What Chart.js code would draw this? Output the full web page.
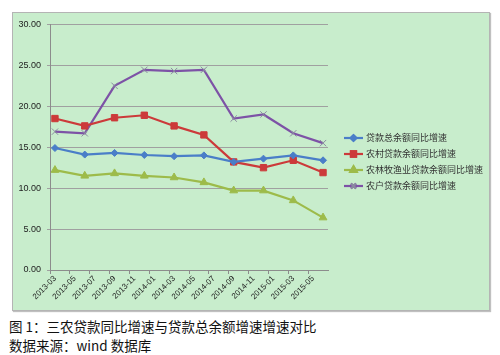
<!DOCTYPE html>
<html><head><meta charset="utf-8">
<script src="https://cdn.jsdelivr.net/npm/chart.js@4"></script>
<style>
html,body{margin:0;padding:0;background:#fff;width:500px;height:355px;overflow:hidden}
#panel{position:absolute;left:12px;top:12px;width:476px;height:297px;background:#c8edcc;border:1px solid #b4b4b4;box-shadow:1px 1px 1px #c0c0c0}
#panel canvas{position:absolute;left:0;top:0}
.cap{position:absolute;left:9px;font-family:"Noto Sans CJK SC","Noto Sans",sans-serif;font-size:13.5px;color:#111;white-space:nowrap;line-height:16px}
</style></head><body>
<div id="panel"><canvas id="c" width="476" height="297"></canvas></div>
<div class="cap" style="top:318px">图 1：三农贷款同比增速与贷款总余额增速增速对比</div>
<div class="cap" style="top:337px">数据来源：wind 数据库</div>
<script>
// monthly axis slots (tick labels shown every 2 months)
const months = ["2013-03","2013-04","2013-05","2013-06","2013-07","2013-08","2013-09","2013-10","2013-11","2013-12",
"2014-01","2014-02","2014-03","2014-04","2014-05","2014-06","2014-07","2014-08","2014-09","2014-10","2014-11","2014-12",
"2015-01","2015-02","2015-03","2015-04","2015-05","2015-06"];
// quarterly observation dates
const dates = ["2013-03","2013-06","2013-09","2013-12","2014-03","2014-06","2014-09","2014-12","2015-03","2015-06"];
const seriesNames = ["贷款总余额同比增速","农村贷款余额同比增速","农林牧渔业贷款余额同比增速","农户贷款余额同比增速"];
const totalLoans   = [14.9,14.1,14.3,14.05,13.9,14.0,13.2,13.6,14.0,13.4];
const ruralLoans   = [18.5,17.6,18.6,18.9,17.6,16.5,13.2,12.5,13.4,11.9];
const agriLoans    = [12.2,11.5,11.8,11.5,11.3,10.7,9.7,9.7,8.5,6.4];
const farmerLoans  = [16.9,16.7,22.5,24.45,24.3,24.45,18.5,19.0,16.7,15.5];
const yTicks = [0,5,10,15,20,25,30];

const colors = ["#4a7ec8","#cc3a3a","#9dbb4a","#7d52a6"];
const styles = ["rectRot","rect","triangle","crossRot"];
const radii = [3.5,4.5,4.5,4.5];
const values = [totalLoans,ruralLoans,agriLoans,farmerLoans];

function toSlots(arr){
  const out = months.map(()=>null);
  dates.forEach((d,i)=>{out[months.indexOf(d)] = arr[i];});
  return out;
}

const datasets = values.map((v,i)=>({
  label: seriesNames[i],
  data: toSlots(v),
  borderColor: colors[i],
  backgroundColor: colors[i],
  pointBorderColor: i===3 ? "#8a8aa0" : colors[i],
  borderWidth: 2.2,
  pointStyle: styles[i],
  pointRadius: radii[i],
  pointBorderWidth: i===3 ? 1 : 1,
  spanGaps: true,
  tension: 0
}));

const legendPlugin = {
  id:"xlLegend",
  afterDraw(chart){
    const ctx = chart.ctx;
    const x0 = 331, x1 = 350, tx = 353;
    const ys = [125,141,157,173];
    ctx.save();
    datasets.forEach((ds,i)=>{
      const y = ys[i];
      ctx.strokeStyle = ds.borderColor; ctx.lineWidth = 2.2;
      ctx.beginPath(); ctx.moveTo(x0,y); ctx.lineTo(x1,y); ctx.stroke();
      Chart.helpers.drawPoint(ctx,{pointStyle:ds.pointStyle,radius:ds.pointRadius*0.8,borderWidth:1},(x0+x1)/2,y);
      ctx.fillStyle = ds.backgroundColor; ctx.strokeStyle = ds.pointBorderColor;
      Chart.helpers.drawPoint(ctx,{pointStyle:ds.pointStyle,radius:ds.pointRadius*0.8,borderWidth:1},(x0+x1)/2,y);
      ctx.fillStyle = "#333";
      ctx.font = '9px "Noto Sans CJK SC", sans-serif';
      ctx.textBaseline = "middle"; ctx.textAlign = "left";
      ctx.fillText(ds.label, tx, y);
    });
    ctx.restore();
  }
};

new Chart(document.getElementById("c"),{
  type:"line",
  data:{labels:months,datasets},
  plugins:[legendPlugin],
  options:{
    responsive:false,animation:false,
    layout:{padding:{top:10,right:161,left:0,bottom:0}},
    plugins:{legend:{display:false},tooltip:{enabled:false}},
    scales:{
      x:{
        offset:true,
        afterFit(s){s.height = 40;},
        grid:{offset:true,drawOnChartArea:false,drawTicks:true,tickLength:4,
          color:(c)=> (c.index%2===0) ? "#8c8c8c" : "rgba(0,0,0,0)", lineWidth:1},
        border:{color:"#8c8c8c",width:1},
        ticks:{autoSkip:false,maxRotation:45,minRotation:45,padding:0,color:"#222",
          font:{family:'"Liberation Sans", Arial, sans-serif',size:8},
          callback:(v,i)=> (i%2===0) ? months[i] : ""}
      },
      y:{
        min:0,max:30,
        afterFit(s){s.width = 37;},
        afterBuildTicks(s){s.ticks = yTicks.map(v=>({value:v}));},
        grid:{color:"#a0a0a0",lineWidth:1,tickLength:3,drawTicks:true},
        border:{color:"#8c8c8c",width:1},
        ticks:{padding:6,color:"#222",font:{family:'"Liberation Sans", Arial, sans-serif',size:9},
          callback:(v)=>Number(v).toFixed(2)}
      }
    }
  }
});
</script>
</body></html>
